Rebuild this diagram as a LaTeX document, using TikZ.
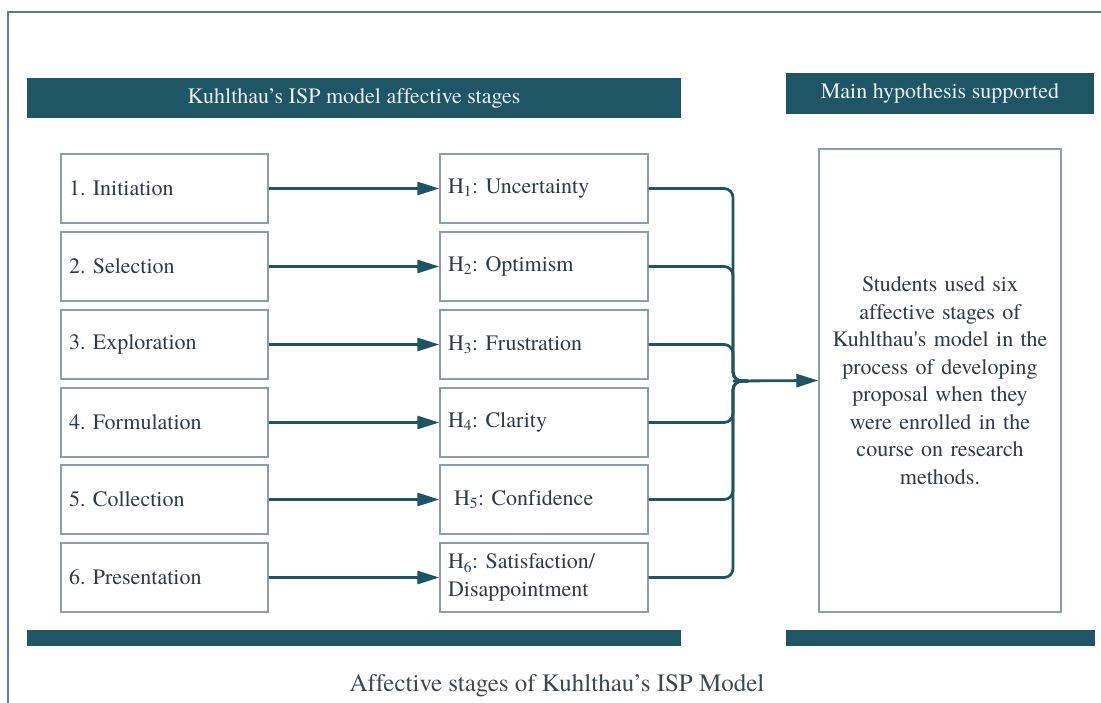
\documentclass[tikz,border=0pt]{standalone}
\usepackage{fontspec}
\setmainfont{texgyretermes}[Extension=.otf, UprightFont=*-regular, ItalicFont=*-italic, BoldFont=*-bold, BoldItalicFont=*-bolditalic, Ligatures={TeX,NoCommon}]
\usetikzlibrary{arrows.meta,calc}
\definecolor{tealbar}{RGB}{31,86,102}
\definecolor{conncol}{RGB}{29,86,98}
\definecolor{boxcol}{RGB}{140,157,171}
\definecolor{txtcol}{RGB}{46,59,74}
\definecolor{hdrtxt}{RGB}{232,240,242}
\definecolor{framecol}{RGB}{95,122,128}
\definecolor{capcol}{RGB}{59,72,82}
\frenchspacing
\begin{document}
\begin{tikzpicture}[x=1pt,y=-1pt,
  every node/.style={font=\fontsize{22}{27.5}\selectfont, text=txtcol},
  bar/.style={fill=tealbar, draw=none, inner sep=0pt, text=hdrtxt},
  stagebox/.style={draw=boxcol, line width=1.3pt, fill=white, minimum height=69pt,
    inner xsep=8pt, text width=191pt, align=left},
  hypbox/.style={draw=boxcol, line width=1.3pt, fill=white, minimum height=69pt,
    inner xsep=8pt, text width=192pt, align=left},
  conn/.style={draw=conncol, line width=2.8pt},
  tip/.style={-{Triangle[length=22pt,width=13pt]}},
  merge/.style={conn, rounded corners=9pt}
]
\useasboundingbox (0,0) rectangle (1101,702);
\draw[framecol, line width=1.2pt] (8,703) -- (8,12) -- (1102,12);

% headers
\node[bar, minimum width=654pt, minimum height=40pt] (hdrL) at (354,98) {Kuhlthau’s ISP model affective stages};
\node[bar, minimum width=308pt, minimum height=41pt] (hdrR) at (940,93.5) {Main hypothesis supported};

% bottom bars
\node[bar, minimum width=654pt, minimum height=16pt] (botL) at (354,638) {};
\node[bar, minimum width=309pt, minimum height=16pt] (botR) at (940.5,638) {};

% left stage boxes
\node[stagebox] (L1) at (164.5,188.5) {1. Initiation};
\node[stagebox] (L2) at (164.5,266.5) {2. Selection};
\node[stagebox] (L3) at (164.5,344.5) {3. Exploration};
\node[stagebox] (L4) at (164.5,422.5) {4. Formulation};
\node[stagebox] (L5) at (164.5,499.5) {5. Collection};
\node[stagebox] (L6) at (164.5,577.5) {6. Presentation};

% hypothesis boxes
\node[hypbox] (M1) at (544,188.5) {H\textsubscript{1}: Uncertainty};
\node[hypbox] (M2) at (544,266.5) {H\textsubscript{2}: Optimism};
\node[hypbox] (M3) at (544,344.5) {H\textsubscript{3}: Frustration};
\node[hypbox] (M4) at (544,422.5) {H\textsubscript{4}: Clarity};
\node[hypbox] (M5) at (544,499.5) {\hspace{6pt}H\textsubscript{5}: Confidence};
\node[hypbox] (M6) at (544,577.5) {H\textsubscript{6}: Satisfaction/\\Disappointment};

% right box
\node[draw=boxcol, line width=1.3pt, fill=white, minimum width=242pt, minimum height=463pt,
  text width=236pt, align=center, inner sep=0pt] (R) at (940,380.5)
  {Students used six\\affective stages of\\Kuhlthau\textquotesingle s model in the\\process of developing\\proposal when they\\were enrolled in the\\course on research\\methods.};

% caption
\node[font=\fontsize{25}{30}\selectfont, text=capcol] (cap) at (557,686) {Affective stages of Kuhlthau’s ISP Model};

% arrows stage -> hypothesis
\foreach \i in {1,...,6} {
  \draw[conn, tip] (L\i) -- (M\i);
}

% merging connectors
\coordinate (J) at (733,381);
\coordinate (Jend) at (748,381);
\foreach \i in {1,...,6} {
  \draw[merge] (M\i.east) -| (J) -- (Jend);
}
\draw[conn, tip] (J) -- (R.west);
\end{tikzpicture}
\end{document}
